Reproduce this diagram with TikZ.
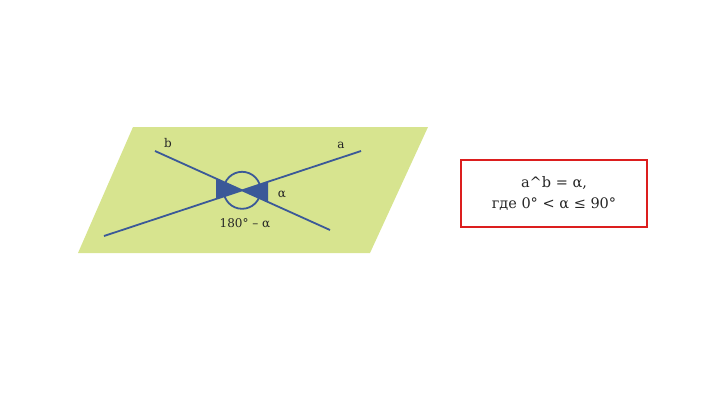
\documentclass[tikz,border=0pt]{standalone}
\usepackage{fontspec}
\setmainfont{DejaVu Serif}
\begin{document}
\begin{tikzpicture}[x=1pt,y=-1pt,
  ln/.style={draw=blue!45!black!80,line width=1.8pt,color={rgb,255:red,59;green,89;blue,152}},
  lbl/.style={font=\fontsize{12}{14}\selectfont,text=black!85}]
\definecolor{pl}{RGB}{215,228,143}
\definecolor{bl}{RGB}{59,89,152}
\useasboundingbox (0,0) rectangle (720,405);
\fill[pl] (78,253) -- (133,127) -- (428,127) -- (370,253) -- cycle;
\coordinate (o) at (242.1,190.3);
\coordinate (a1) at (104,236); \coordinate (a2) at (361,151);
\coordinate (b1) at (155,151); \coordinate (b2) at (330,230);
\fill[bl] (o) -- (216,178.5) -- (216,198.9) -- cycle;
\fill[bl] (o) -- (268,181.7) -- (268,202) -- cycle;
\draw[bl,line width=1.8pt] (a1) -- (a2);
\draw[bl,line width=1.8pt] (b1) -- (b2);
\draw[bl,line width=1.8pt] (o) circle (18.5);
\node[lbl] (lb) at (168,143) {b};
\node[lbl] (la) at (341,145) {a};
\node[lbl] (lal) at (282,194) {α};
\node[lbl] (l180) at (245,223) {180° – α};
\node[draw={rgb,255:red,220;green,30;blue,30},line width=1.2pt,minimum width=186pt,minimum height=67pt,
  align=center,font=\fontsize{14.5}{21}\selectfont,text=black!85] (box) at (554,193.5) {a\^{}b = α,\\где 0° < α ≤ 90°};
\end{tikzpicture}
\end{document}
